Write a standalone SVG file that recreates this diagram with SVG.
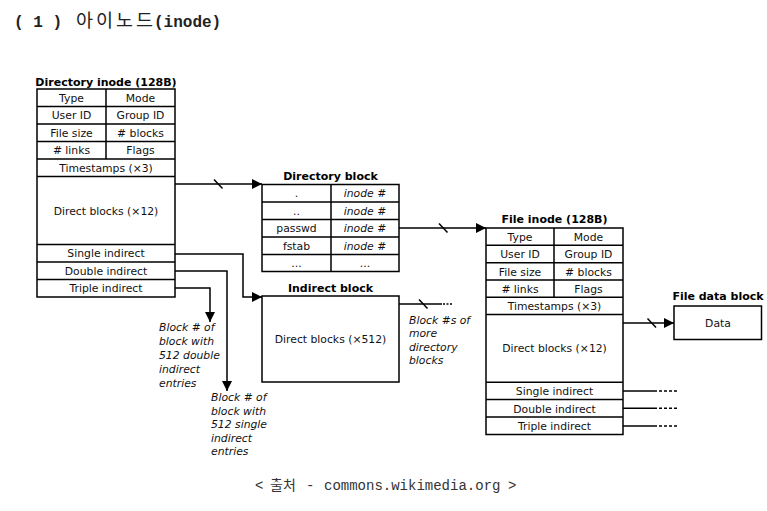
<svg xmlns="http://www.w3.org/2000/svg" width="767" height="511" viewBox="0 0 767 511">
<style>
.bg{fill:#fff}
.box{fill:#fff;stroke:#000;stroke-width:1.5}
.ln{fill:none;stroke:#000;stroke-width:1.5}
.t{font-family:"DejaVu Sans","Liberation Sans",sans-serif;font-size:10.8px;fill:#111;text-anchor:middle}
.ti{font-family:"DejaVu Sans","Liberation Sans",sans-serif;font-size:10.8px;fill:#111;font-style:italic}
.tb{font-family:"DejaVu Sans","Liberation Sans",sans-serif;font-size:11px;font-weight:bold;fill:#000;text-anchor:middle}
.dash{fill:none;stroke:#000;stroke-width:1.5;stroke-dasharray:3,2}
</style>
<defs>
<marker id="ah" markerWidth="11" markerHeight="10" refX="10" refY="5" orient="auto" markerUnits="userSpaceOnUse">
<path d="M0,0 L10,5 L0,10 Z" fill="#000"/>
</marker>
</defs>
<rect class="bg" x="0" y="0" width="767" height="511"/>

<g id="heading">
<text x="14" y="27" font-family="'Liberation Mono',monospace" font-size="16" font-weight="bold" fill="#222">( 1 )</text>
<text x="76" y="27" font-family="'Noto Sans CJK KR',sans-serif" font-size="18.5" fill="#222" textLength="77" lengthAdjust="spacing">아이노드</text>
<text x="154" y="27" font-family="'Liberation Mono',monospace" font-size="16" font-weight="bold" fill="#222">(inode)</text>
</g>

<g id="dir-inode">
<text class="tb" x="106" y="86">Directory inode (128B)</text>
<rect class="box" x="37" y="89" width="138" height="208"/>
<path class="ln" d="M37,106.5H175M37,124H175M37,141.5H175M37,159H175M37,176.5H175M37,244.5H175M37,262H175M37,279.5H175M106,89V159"/>
<text class="t" x="71.5" y="101.5">Type</text><text class="t" x="140.5" y="101.5">Mode</text>
<text class="t" x="71.5" y="119">User ID</text><text class="t" x="140.5" y="119">Group ID</text>
<text class="t" x="71.5" y="136.5">File size</text><text class="t" x="140.5" y="136.5"># blocks</text>
<text class="t" x="71.5" y="154"># links</text><text class="t" x="140.5" y="154">Flags</text>
<text class="t" x="106" y="171.5">Timestamps (×3)</text>
<text class="t" x="106" y="214.5">Direct blocks (×12)</text>
<text class="t" x="106" y="257">Single indirect</text>
<text class="t" x="106" y="274.5">Double indirect</text>
<text class="t" x="106" y="292">Triple indirect</text>
</g>

<g id="dir-block">
<text class="tb" x="330.5" y="180">Directory block</text>
<rect class="box" x="262" y="184.5" width="137" height="87"/>
<path class="ln" d="M262,202H399M262,219.5H399M262,237H399M262,254.5H399M331,184.5V271.5"/>
<text class="t" x="296.5" y="197">.</text><text class="ti" x="365" y="197" text-anchor="middle">inode #</text>
<text class="t" x="296.5" y="214.5">..</text><text class="ti" x="365" y="214.5" text-anchor="middle">inode #</text>
<text class="t" x="296.5" y="232">passwd</text><text class="ti" x="365" y="232" text-anchor="middle">inode #</text>
<text class="t" x="296.5" y="249.5">fstab</text><text class="ti" x="365" y="249.5" text-anchor="middle">inode #</text>
<text class="t" x="296.5" y="267">...</text><text class="t" x="365" y="267">...</text>
</g>

<g id="indirect-block">
<text class="tb" x="330.5" y="292">Indirect block</text>
<rect class="box" x="262" y="296" width="137" height="86"/>
<text class="t" x="330.5" y="343">Direct blocks (×512)</text>
</g>

<g id="file-inode">
<text class="tb" x="554.5" y="223">File inode (128B)</text>
<rect class="box" x="486" y="228" width="137" height="206.5"/>
<path class="ln" d="M486,245.3H623M486,262.7H623M486,280H623M486,297.3H623M486,314.5H623M486,382.3H623M486,399.5H623M486,417H623M554,228V297.3"/>
<text class="t" x="520" y="240.5">Type</text><text class="t" x="588.5" y="240.5">Mode</text>
<text class="t" x="520" y="258">User ID</text><text class="t" x="588.5" y="258">Group ID</text>
<text class="t" x="520" y="275.5">File size</text><text class="t" x="588.5" y="275.5"># blocks</text>
<text class="t" x="520" y="292.5"># links</text><text class="t" x="588.5" y="292.5">Flags</text>
<text class="t" x="554.5" y="309.5">Timestamps (×3)</text>
<text class="t" x="554.5" y="352">Direct blocks (×12)</text>
<text class="t" x="554.5" y="395">Single indirect</text>
<text class="t" x="554.5" y="412.5">Double indirect</text>
<text class="t" x="554.5" y="430">Triple indirect</text>
</g>

<g id="file-data-block">
<text class="tb" x="718" y="300">File data block</text>
<rect class="box" x="674" y="306" width="87.5" height="33.5"/>
<text class="t" x="718" y="327">Data</text>
</g>

<g id="notes">
<text class="ti" x="159"><tspan x="159" y="331">Block # of</tspan><tspan x="159" y="345">block with</tspan><tspan x="159" y="359">512 double</tspan><tspan x="159" y="373">indirect</tspan><tspan x="159" y="387">entries</tspan></text>
<text class="ti" x="211"><tspan x="211" y="401">Block # of</tspan><tspan x="211" y="414.5">block with</tspan><tspan x="211" y="428">512 single</tspan><tspan x="211" y="441.5">indirect</tspan><tspan x="211" y="455">entries</tspan></text>
<text class="ti" x="409"><tspan x="409" y="324">Block #s of</tspan><tspan x="409" y="337">more</tspan><tspan x="409" y="350.5">directory</tspan><tspan x="409" y="364">blocks</tspan></text>
</g>

<g id="connectors">
<path class="ln" d="M175,184H262" marker-end="url(#ah)"/>
<path class="ln" d="M214,179.5L222.5,188.5"/>
<path class="ln" d="M175,254H243V297H262" marker-end="url(#ah)"/>
<path class="ln" d="M175,271H227V391" marker-end="url(#ah)"/>
<path class="ln" d="M175,288H210V322" marker-end="url(#ah)"/>
<path class="ln" d="M399,228H486" marker-end="url(#ah)"/>
<path class="ln" d="M439,223.5L447.5,232.5"/>
<path class="ln" d="M399,304H442"/>
<path class="dash" d="M443,304H452" style="stroke-dasharray:2,1.5"/>
<path class="ln" d="M419,299.5L427.5,308.5"/>
<path class="ln" d="M623,323H674" marker-end="url(#ah)"/>
<path class="ln" d="M647.5,318.5L656,327.5"/>
<path class="ln" d="M623,391H657"/>
<path class="dash" d="M659,391H677"/>
<path class="ln" d="M623,408.3H657"/>
<path class="dash" d="M659,408.3H677"/>
<path class="ln" d="M623,426H657"/>
<path class="dash" d="M659,426H677"/>
</g>

<g id="source">
<text y="490" font-family="'Liberation Mono',monospace" font-size="14" fill="#333"><tspan x="255">&lt;</tspan><tspan x="270" font-family="'Noto Sans CJK KR',sans-serif" font-size="14">출처</tspan><tspan x="306">-</tspan><tspan x="324">commons.wikimedia.org</tspan><tspan x="508">&gt;</tspan></text>
</g>
</svg>
